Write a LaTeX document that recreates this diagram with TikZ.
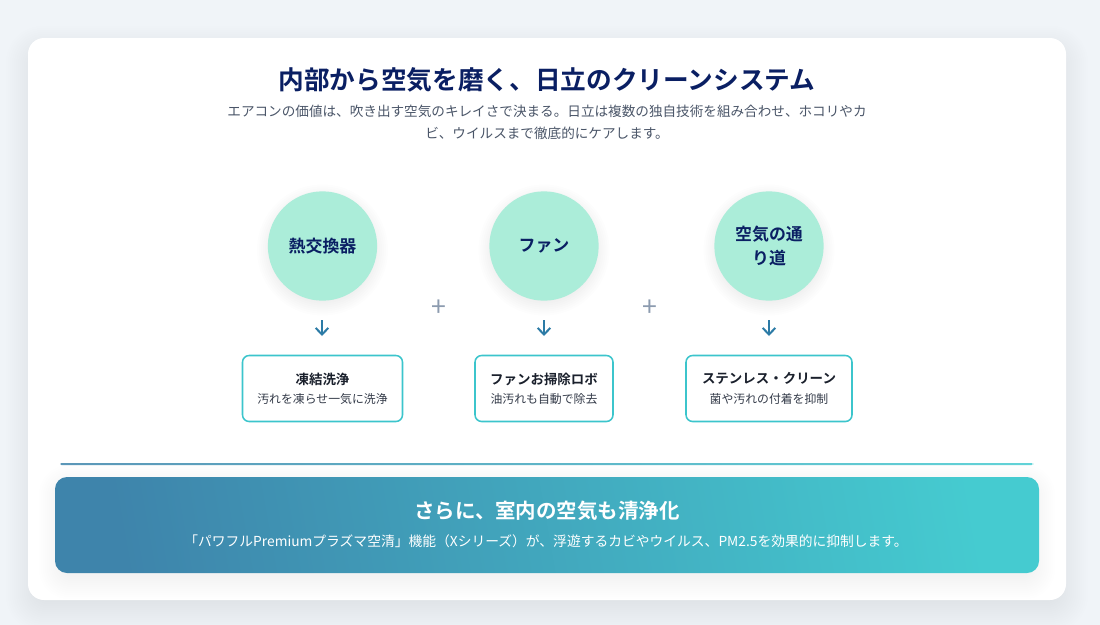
\documentclass[tikz,border=0pt]{standalone}
\usepackage{fontspec}
\setmainfont{Noto Sans CJK JP}
\newfontfamily\jpb{Noto Sans CJK JP Bold}
\usetikzlibrary{arrows.meta}
\definecolor{pagebg}{HTML}{F0F4F8}
\definecolor{navy}{HTML}{0A1F63}
\definecolor{subgrey}{HTML}{4A5568}
\definecolor{mint}{HTML}{ABEDD9}
\definecolor{teal}{HTML}{3CC5CC}
\definecolor{blueL}{HTML}{3E84AB}
\definecolor{tealR}{HTML}{45CBD0}
\definecolor{plusc}{HTML}{8C9BAF}
\definecolor{arrowc}{HTML}{2C7BA6}
\definecolor{inkc}{HTML}{1A202C}
\definecolor{shadowc}{HTML}{1A2A44}
\newcommand{\softshadow}[5]{% x1,y1,x2,y2,radius
  \foreach \k in {0,2,...,30}{
    \pgfmathsetmacro{\e}{\k-8}
    \fill[shadowc,opacity=0.0055,rounded corners=#5*0.75pt+\k*0.6pt]
      (#1-\e,#2-\e+10) rectangle (#3+\e,#4+\e+10);
  }}
\newcommand{\circshadow}[3]{%
  \foreach \k in {0,2,...,16}{
    \fill[shadowc,opacity=0.007] (#1,#2+4) circle[radius=#3+\k-5];
  }}
\tikzset{
  x=0.75pt,y=-0.75pt,
  headtitle/.style={text=navy,font=\jpb\fontsize{19.25pt}{24pt}\selectfont,inner sep=0},
  subtitle/.style={text=subgrey,font=\fontsize{10.2pt}{16.5pt}\selectfont,align=center,inner sep=0},
  comp/.style={circle,fill=mint,minimum size=82pt,inner sep=0,text=navy,align=center,text width=58pt,
    font=\jpb\fontsize{12.7pt}{17.5pt}\selectfont},
  techbox/.style={draw=teal,line width=1.15pt,fill=white,rounded corners=5pt,minimum height=49.5pt,align=center,inner sep=0,
    text=inkc,font=\fontsize{10.1pt}{14.5pt}\selectfont},
  boxnote/.style={},
  downarrow/.style={draw=arrowc,line width=1.5pt,-{Straight Barb[length=5pt,width=9.5pt,line width=1.5pt]}},
  plussign/.style={text=plusc,font=\fontsize{20pt}{20pt}\selectfont,inner sep=0},
}
\newcommand{\bnote}[1]{{\fontsize{8.9pt}{14.5pt}\selectfont\color{subgrey!70!black}#1}}
\begin{document}
\begin{tikzpicture}
\useasboundingbox (0,0) rectangle (1100,625);
\fill[pagebg] (0,0) rectangle (1100,625);
% card
\softshadow{28}{38}{1066}{600}{12}
\fill[white,rounded corners=12pt] (28,38) rectangle (1066,600);
% heading
\node[headtitle] (title) at (547,80) {内部から空気を磨く、日立のクリーンシステム};
\node[subtitle] (sub) at (547,122) {エアコンの価値は、吹き出す空気のキレイさで決まる。日立は複数の独自技術を組み合わせ、ホコリやカ\\ビ、ウイルスまで徹底的にケアします。};
% circles
\circshadow{322.5}{246}{54.5}
\circshadow{544}{246}{54.5}
\circshadow{769}{246}{54.5}
\node[comp] (c1) at (322.5,246) {熱交換器};
\node[comp] (c2) at (544,246) {ファン};
\node[comp] (c3) at (769,246) {空気の通\\り道};
% plus
\node[plussign] (p1) at (439,308) {+};
\node[plussign] (p2) at (650,308) {+};
% boxes
\node[techbox,minimum width=120pt] (b1) at (322.5,388.5) {{\jpb 凍結洗浄}\\\bnote{汚れを凍らせ一気に洗浄}};
\node[techbox,minimum width=103.5pt] (b2) at (544,388.5) {{\jpb ファンお掃除ロボ}\\\bnote{油汚れも自動で除去}};
\node[techbox,minimum width=124.5pt] (b3) at (769,388.5) {{\jpb ステンレス・クリーン}\\\bnote{菌や汚れの付着を抑制}};
% arrows
\coordinate (a1s) at (322,320); \coordinate (a1e) at (322,336);
\coordinate (a2s) at (544,320); \coordinate (a2e) at (544,336);
\coordinate (a3s) at (769,320); \coordinate (a3e) at (769,336);
\draw[downarrow] (a1s) -- (a1e);
\draw[downarrow] (a2s) -- (a2e);
\draw[downarrow] (a3s) -- (a3e);
% rule
\shade[left color=blueL!85!white,right color=tealR!85!white,rounded corners=1pt,shading angle=90] (60,463) rectangle (1033,465);
% banner
\foreach \k in {0,2,...,22}{
  \fill[shadowc,opacity=0.0055,rounded corners=9pt+\k*0.6pt] (55-\k+6,477-\k+10) rectangle (1039+\k-6,573+\k+4);
}
\shade[left color=blueL,right color=tealR,shading angle=100,rounded corners=9pt] (55,477) rectangle (1039,573);
\node[text=white,inner sep=0,font=\jpb\fontsize{15.35pt}{20pt}\selectfont] (bt) at (547,511) {さらに、室内の空気も清浄化};
\node[text=white,inner sep=0,font=\fontsize{10.33pt}{14pt}\selectfont] (bs) at (546,541) {「パワフルPremiumプラズマ空清」機能（Xシリーズ）が、浮遊するカビやウイルス、PM2.5を効果的に抑制します。};
\end{tikzpicture}
\end{document}
